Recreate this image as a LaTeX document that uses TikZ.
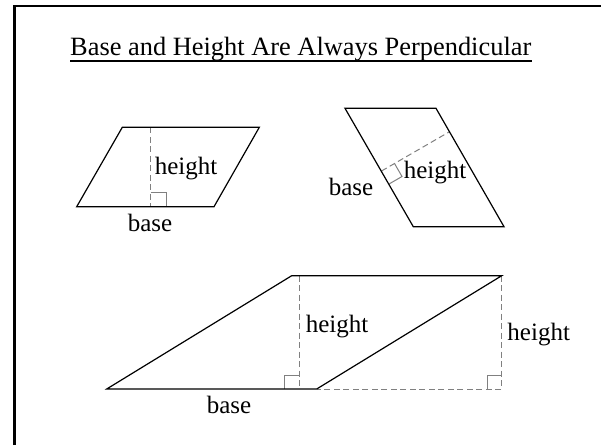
\documentclass[tikz,border=0pt]{standalone}
\usepackage{fontspec}
\setmainfont{Liberation Serif}
\begin{document}
\begin{tikzpicture}[x=1pt,y=-1pt,
  para/.style={draw=black,line width=1.2pt,line join=miter},
  hline/.style={draw=black!50, line width=1pt, dash pattern=on 6pt off 3.5pt},
  rightangle/.style={draw=black!50, line width=1pt},
  lbl/.style={inner sep=0pt, font=\fontsize{25}{30}\selectfont},
  frame/.style={draw=black, line width=2.3pt}]
\useasboundingbox (0,0) rectangle (601,445);
% frame
\draw[frame] (14.5,445) -- (14.5,6.2) -- (601,6.2);
% title
\node[inner sep=0pt, anchor=base west, font=\fontsize{26.4}{31}\selectfont] (title) at (70,55) {Base and Height Are Always Perpendicular};
\coordinate (ul) at (0,60.5);
\draw[line width=2pt] (title.west |- ul) -- (title.east |- ul);

% parallelogram 1
\coordinate (p1a) at (76.7,206.7);
\coordinate (p1b) at (214,206.7);
\coordinate (p1c) at (259.3,127.3);
\coordinate (p1d) at (122.3,127.3);
\coordinate (h1t) at (150.7,127.3);
\coordinate (h1b) at (150.7,206.7);
\draw[hline] (h1t) -- (h1b);
\draw[rightangle] (150.7,192) -- (166,192) -- (166,206.7);
\draw[para] (p1a) -- (p1b) -- (p1c) -- (p1d) -- cycle;
\node[lbl] (ht1) at (186,169) {height};
\node[lbl] (bs1) at (150,223) {base};

% parallelogram 2
\coordinate (p2a) at (345,108.3);
\coordinate (p2b) at (436,108.3);
\coordinate (p2c) at (504,226.7);
\coordinate (p2d) at (413.3,226.7);
\coordinate (h2f) at (381.5,171);
\coordinate (h2e) at (449.7,131.6);
\draw[hline] (h2f) -- (h2e);
\draw[rightangle] (389,184) -- (402,176.5) -- (394.5,163.5);
\draw[para] (p2a) -- (p2b) -- (p2c) -- (p2d) -- cycle;
\node[lbl] (ht2) at (435,173) {height};
\node[lbl] (bs2) at (351,186.7) {base};

% parallelogram 3
\coordinate (p3a) at (106.7,389);
\coordinate (p3b) at (316.7,389);
\coordinate (p3c) at (501.7,275.7);
\coordinate (p3d) at (291.7,275.7);
\coordinate (h3t) at (299,275.7);
\coordinate (h3b) at (299,389);
\coordinate (h4b) at (501.7,389);
\draw[hline] (h3t) -- (h3b);
\draw[hline] (p3c) -- (h4b) -- (p3b);
\draw[rightangle] (284,389) -- (284,375) -- (299,375);
\draw[rightangle] (487.7,389) -- (487.7,375) -- (501.7,375);
\draw[para] (p3a) -- (p3b) -- (p3c) -- (p3d) -- cycle;
\node[lbl] (ht3) at (337,326.7) {height};
\node[lbl] (bs3) at (229,405) {base};
\node[lbl] (ht4) at (538.7,335) {height};
\end{tikzpicture}
\end{document}
